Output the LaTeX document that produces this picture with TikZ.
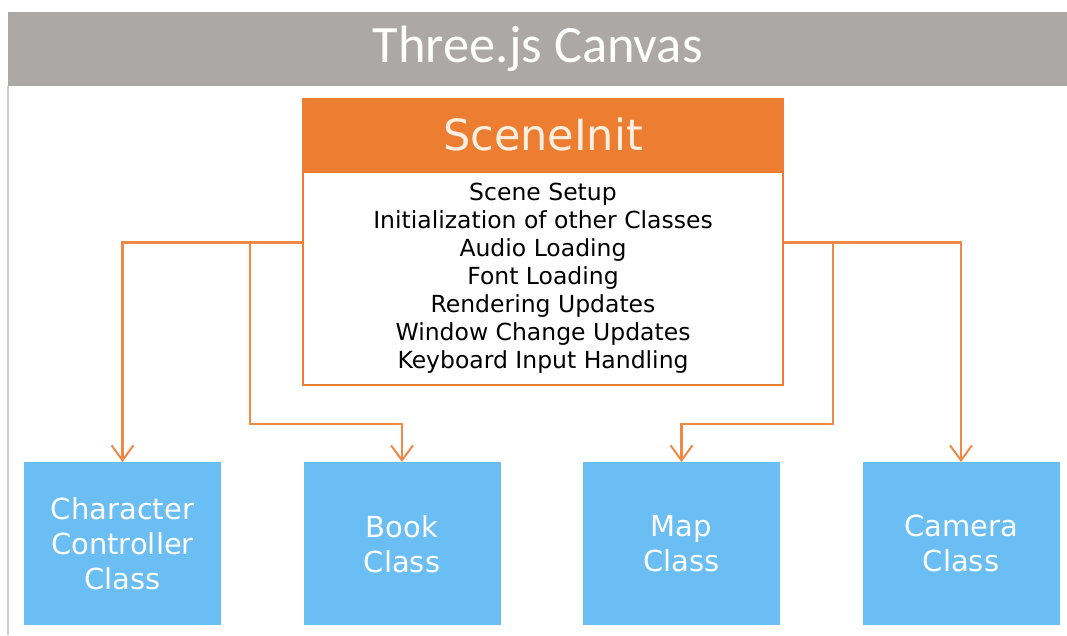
\documentclass[tikz,border=0pt]{standalone}
\usepackage{fontspec}
\setmainfont{DejaVu Sans}
\newfontfamily\titlefont{Carlito}
\usetikzlibrary{arrows.meta}

\definecolor{canvasgray}{RGB}{171,168,167}
\definecolor{framegray}{RGB}{205,205,205}
\definecolor{initorange}{RGB}{237,125,49}
\definecolor{initcream}{RGB}{253,240,226}
\definecolor{classblue}{RGB}{107,190,243}

\begin{document}
\begin{tikzpicture}[x=1pt,y=-1pt,node distance=279.5pt,
    class/.style={fill=classblue,text=white,minimum width=197,minimum height=163,
      inner sep=0,align=center,anchor=north,font=\fontsize{29}{35}\selectfont},
    conn/.style={draw=initorange!90,line width=2.2,-{Straight Barb[length=15,width=22,line width=2]}}]
    \useasboundingbox (0,0) rectangle (1067,635);
    \fill[white] (0,0) rectangle (1067,635);

    % canvas frame
    \node[fill=canvasgray,minimum width=1059,minimum height=74,inner sep=0,anchor=north west,
      text=white,font=\titlefont\fontsize{52.5}{60}\selectfont] (canvas) at (8,12) {Three.js Canvas};
    \draw[framegray,line width=2] (canvas.south west) -- (8,635);

    % scene init
    \node[fill=initorange,draw=initorange,line width=2,minimum width=480,minimum height=71,inner sep=0,
      anchor=north west,text=initcream,font=\fontsize{43}{50}\selectfont] (inithead) at (302,98) {SceneInit};
    \node[draw=initorange,line width=2,fill=white,minimum width=480,minimum height=213,inner sep=0,
      anchor=north,align=center,font=\fontsize{23.5}{28}\selectfont] (initbody) at (inithead.south)
      {Scene Setup\\Initialization of other Classes\\Audio Loading\\Font Loading\\
       Rendering Updates\\Window Change Updates\\Keyboard Input Handling};

    % classes
    \node[class] (chr) at (122.5,462) {Character\\Controller\\Class};
    \node[class] (book) [right of=chr] {Book\\Class};
    \node[class] (map) [right of=book] {Map\\Class};
    \node[class] (cam) [right of=map] {Camera\\Class};

    \coordinate (lout) at ([yshift=36]initbody.west);
    \coordinate (rout) at ([yshift=36]initbody.east);
    \coordinate (lbend) at (250,424);
    \coordinate (rbend) at (833,424);

    \draw[conn] (lout) -| (chr.north);
    \draw[conn] (lbend |- lout) -- (lbend) -| (book.north);
    \draw[conn] (rout) -| (cam.north);
    \draw[conn] (rbend |- rout) -- (rbend) -| (map.north);
\end{tikzpicture}
\end{document}
